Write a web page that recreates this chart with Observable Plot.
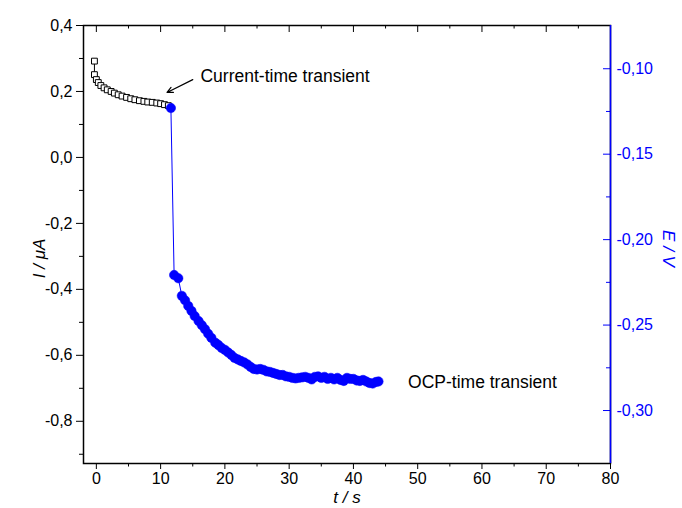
<!DOCTYPE html>
<html><head><meta charset="utf-8">
<script src="https://cdn.jsdelivr.net/npm/d3@7"></script>
<script src="https://cdn.jsdelivr.net/npm/@observablehq/plot@0.6"></script>
<style>body{margin:0;background:#fff} svg{display:block}</style>
</head><body><div id="chart"></div>
<script>
// Current-time transient (left axis, I / µA)
const currentT = [-0.3, -0.3, 0.0, 0.3, 0.7, 1.2, 1.7, 2.3, 2.8, 3.4, 4.0, 4.7, 5.35, 6.0, 6.7, 7.4, 8.0, 8.7, 9.4, 10.0, 10.6, 11.2];
const currentI = [0.292, 0.251, 0.236, 0.227, 0.218, 0.211, 0.205, 0.200, 0.195, 0.190, 0.186, 0.182, 0.178, 0.175, 0.172, 0.170, 0.168, 0.167, 0.165, 0.163, 0.160, 0.157];

// OCP-time transient (right axis, E / V)
const ocpT = [11.6, 12.1, 12.75, 13.3, 13.8, 14.3, 14.8, 15.3, 15.9, 16.4, 16.9, 17.4, 17.9, 18.5,
  19.0, 19.5, 20.0, 20.5, 21.0, 21.5, 22.0, 22.5, 23.0, 23.5, 24.0, 24.5, 25.0, 25.5, 26.0, 26.5,
  27.0, 27.5, 28.0, 28.5, 29.0, 29.5, 30.0, 30.5, 31.0, 31.5, 32.0, 32.5, 33.0, 33.5, 34.0, 34.5,
  35.0, 35.5, 36.0, 36.5, 37.0, 37.5, 38.0, 38.5, 39.0, 39.5, 40.0, 40.5, 41.0, 41.5, 42.0, 42.5,
  43.0, 43.5, 43.9];
const ocpE = [-0.1230, -0.2207, -0.2226, -0.2329, -0.2355, -0.2388, -0.2417, -0.2447, -0.2476, -0.2500, -0.2524, -0.2551, -0.2575, -0.2603,
  -0.2617, -0.2634, -0.2645, -0.2660, -0.2675, -0.2692, -0.2701, -0.2710, -0.2718, -0.2730, -0.2745, -0.2757, -0.2760, -0.2757, -0.2762, -0.2771,
  -0.2774, -0.2780, -0.2786, -0.2792, -0.2792, -0.2800, -0.2803, -0.2809, -0.2812, -0.2809, -0.2806, -0.2803, -0.2809, -0.2818, -0.2803, -0.2800,
  -0.2809, -0.2803, -0.2815, -0.2809, -0.2818, -0.2809, -0.2821, -0.2827, -0.2809, -0.2815, -0.2815, -0.2824, -0.2827, -0.2821, -0.2830, -0.2839,
  -0.2842, -0.2833, -0.2830];

// Axes
const xDomain = [-2, 80];
const iDomain = [-0.928, 0.4];
const eDomain = [-0.331, -0.0747];
const xMajorTicks = [0, 10, 20, 30, 40, 50, 60, 70, 80];
const xMinorTicks = [5, 15, 25, 35, 45, 55, 65, 75];
const iMajorTicks = [-0.8, -0.6, -0.4, -0.2, 0.0, 0.2, 0.4];
const iMinorTicks = [-0.9, -0.7, -0.5, -0.3, -0.1, 0.1, 0.3];
const eMajorTicks = [-0.10, -0.15, -0.20, -0.25, -0.30];
const eMinorTicks = [-0.125, -0.175, -0.225, -0.275];

// Annotations
const labelTexts = ["Current-time transient", "OCP-time transient"];
const labelT = [16.2, 48.5];
const labelI = [0.245, -0.682];
const arrowFrom = [15.0, 0.236];
const arrowTo = [11.0, 0.197];

const BLUE = "#0000ff";
const font = "'Liberation Sans', Arial, sans-serif";

const W = 682, H = 508, mT = 25, mR = 72, mB = 45, mL = 83;
// data units per pixel (for inward tick lengths)
const xPerPx = (xDomain[1] - xDomain[0]) / (W - mL - mR);
const yPerPx = (iDomain[1] - iDomain[0]) / (H - mT - mB);

// map E values onto the I scale (dual axis)
const eToI = d3.scaleLinear().domain(eDomain).range(iDomain);

const fmtComma = (v, n) => (v < -1e-9 ? "-" : "") + Math.abs(v).toFixed(n).replace(".", ",");

const cur = currentT.map((t, i) => ({t, I: currentI[i]}));
const ocp = ocpT.map((t, i) => ({t, y: eToI(ocpE[i])}));
const labels = labelTexts.map((s, i) => ({s, t: labelT[i], I: labelI[i]}));

const chart = Plot.plot({
  width: W, height: H,
  marginTop: mT, marginRight: mR, marginBottom: mB, marginLeft: mL,
  style: {fontFamily: font, fontSize: "16px", background: "#fff", color: "black"},
  x: {domain: xDomain},
  y: {domain: iDomain},
  marks: [
    // bottom axis
    Plot.axisX({ticks: xMajorTicks, anchor: "bottom", tickSize: 6, tickPadding: 3, tickFormat: d => String(d), label: null, fontSize: 16}),
    Plot.axisX({ticks: xMinorTicks, anchor: "bottom", tickSize: 3.5, tickFormat: () => "", label: null}),
    // top (inward) ticks
    Plot.ruleX(xMajorTicks, {y1: iDomain[1], y2: iDomain[1] - 7 * yPerPx, stroke: "black", strokeWidth: 1}),
    Plot.ruleX(xMinorTicks, {y1: iDomain[1], y2: iDomain[1] - 3.5 * yPerPx, stroke: "black", strokeWidth: 1}),
    // left axis
    Plot.axisY({ticks: iMajorTicks, anchor: "left", tickSize: 7, tickPadding: 4, tickFormat: d => fmtComma(d, 1), label: null, fontSize: 16}),
    Plot.axisY({ticks: iMinorTicks, anchor: "left", tickSize: 4, tickFormat: () => "", label: null}),
    // right axis (E), inward ticks
    Plot.ruleY(eMajorTicks.map(eToI), {x1: xDomain[1], x2: xDomain[1] - 7 * xPerPx, stroke: BLUE, strokeWidth: 1}),
    Plot.ruleY(eMinorTicks.map(eToI), {x1: xDomain[1], x2: xDomain[1] - 4 * xPerPx, stroke: BLUE, strokeWidth: 1}),
    Plot.axisY({ticks: eMajorTicks.map(eToI), anchor: "right", tickSize: 0, tickPadding: 6, tickFormat: d => fmtComma(eToI.invert(d), 2), label: null, fill: BLUE, fontSize: 16}),
    Plot.frame({stroke: "black", strokeWidth: 1.5}),
    Plot.ruleX([xDomain[1]], {stroke: BLUE, strokeWidth: 1.5}),
    // current series
    Plot.line(cur, {x: "t", y: "I", stroke: "black", strokeWidth: 1}),
    Plot.dot(cur, {x: "t", y: "I", symbol: "square", r: 3.3, stroke: "black", strokeWidth: 1, fill: "white"}),
    // OCP series
    Plot.line(ocp, {x: "t", y: "y", stroke: BLUE, strokeWidth: 1}),
    Plot.dot(ocp, {x: "t", y: "y", r: 4.7, fill: BLUE, stroke: BLUE, strokeWidth: 0.5}),
    // annotations
    Plot.arrow([0], {x1: () => arrowFrom[0], y1: () => arrowFrom[1], x2: () => arrowTo[0], y2: () => arrowTo[1], stroke: "black", strokeWidth: 1.2, headLength: 8, headAngle: 50}),
    Plot.text(labels, {x: "t", y: "I", text: "s", textAnchor: "start", fontSize: 17.5, fill: "black"}),
    // axis titles
    Plot.text(["t / s"], {frameAnchor: "bottom", lineAnchor: "middle", textAnchor: "middle", dy: 34, fontStyle: "italic", fontSize: 17, fill: "black"}),
    Plot.text(["I / μA"], {frameAnchor: "left", lineAnchor: "middle", textAnchor: "middle", dx: -44, dy: 14, rotate: -90, fontStyle: "italic", fontSize: 17, fill: "black"}),
    Plot.text(["E / V"], {frameAnchor: "right", lineAnchor: "middle", textAnchor: "middle", dx: 58, dy: 4, rotate: 90, fontStyle: "italic", fontSize: 17, fill: BLUE})
  ]
});
document.getElementById("chart").appendChild(chart);
</script>
</body></html>
